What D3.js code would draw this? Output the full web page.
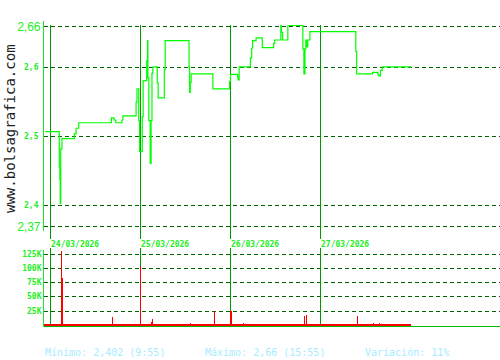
<!DOCTYPE html>
<html><head><meta charset="utf-8">
<script src="https://cdn.jsdelivr.net/npm/d3@7"></script>
<style>body{margin:0;background:#fff}svg{display:block}</style>
</head><body>
<svg id="c" width="500" height="360"></svg>
<script>
const days = ["24/03/2026","25/03/2026","26/03/2026","27/03/2026"];
const priceTicks = [2.66, 2.6, 2.5, 2.4, 2.37];
const priceTickLabels = ["2,66","2,6","2,5","2,4","2,37"];
const volumeTicks = [25000, 50000, 75000, 100000, 125000];
const volumeTickLabels = ["25K","50K","75K","100K","125K"];
const footerLabels = ["Mínimo: 2,402 (9:55)", "Máximo: 2,66 (15:55)", "Variación: 11%"];
const watermark = "www.bolsagrafica.com";

// [day index, time, price]
const priceSeries = [
  [0,"08:30",2.506],[0,"09:50",2.455],[0,"09:53",2.437],[0,"09:55",2.402],
  [0,"09:58",2.481],[0,"10:05",2.496],[0,"11:15",2.503],[0,"11:25",2.511],
  [0,"11:40",2.519],[0,"14:45",2.526],[0,"15:00",2.523],[0,"15:10",2.519],
  [0,"15:45",2.523],[0,"15:50",2.529],[0,"17:05",2.549],[0,"17:10",2.568],
  [0,"17:20",2.522],[0,"17:25",2.477],
  [1,"09:10",2.528],[1,"09:15",2.580],[1,"09:35",2.609],[1,"09:40",2.638],
  [1,"09:42",2.584],[1,"09:47",2.522],[1,"09:55",2.460],[1,"10:00",2.522],
  [1,"10:05",2.591],[1,"10:10",2.600],[1,"10:35",2.577],[1,"10:40",2.555],
  [1,"11:15",2.596],[1,"11:20",2.638],[1,"13:35",2.600],[1,"13:38",2.563],
  [1,"13:42",2.577],[1,"13:47",2.590],[1,"15:50",2.568],[1,"17:25",2.579],
  [2,"09:00",2.589],[2,"09:40",2.586],[2,"09:43",2.581],[2,"09:49",2.600],
  [2,"10:53",2.613],[2,"11:00",2.627],[2,"11:05",2.638],[2,"11:25",2.642],
  [2,"12:00",2.628],[2,"13:05",2.634],[2,"13:10",2.639],[2,"13:45",2.660],
  [2,"13:48",2.650],[2,"13:55",2.639],[2,"14:25",2.660],[2,"15:50",2.626],
  [2,"15:56",2.590],[2,"16:02",2.626],[2,"16:07",2.639],[2,"16:12",2.629],
  [2,"16:18",2.639],[2,"16:30",2.651],
  [3,"12:20",2.622],[3,"12:25",2.590],[3,"13:55",2.592],[3,"14:25",2.589],
  [3,"14:30",2.587],[3,"14:40",2.595],[3,"14:50",2.600],[3,"17:35",2.600]
];

// [day index, time, volume]
const volumeSeries = [
  [0,"09:58",130000],[0,"10:04",82000],[0,"11:46",2000],[0,"14:46",14000],
  [0,"15:10",2000],[0,"15:50",2000],[0,"17:08",2000],[0,"17:25",104000],
  [1,"09:13",2000],[1,"09:58",5000],[1,"10:05",10000],[1,"13:39",4000],
  [1,"13:45",2000],[1,"15:57",25000],[1,"17:25",25000],[1,"17:30",25000],
  [2,"09:05",25000],[2,"09:57",2000],[2,"10:08",4000],[2,"13:45",2000],
  [2,"15:55",15000],[2,"16:05",17000],[2,"16:18",2000],
  [3,"12:26",15000],[3,"13:57",4000],[3,"14:31",4000],[3,"17:26",2000]
];

const SESSION = 510, OPEN = 540;
const tOf = (d, s) => { const [h, m] = s.split(":").map(Number); return d * SESSION + h * 60 + m - OPEN; };

const svg = d3.select("#c");
const x = d3.scaleLinear().domain([0, days.length * SESSION]).range([50.5, 410.5]);
const y = d3.scaleLinear().domain([2.37, 2.66]).range([225.5, 25.5]);
const yv = d3.scaleLinear().domain([0, 125000]).range([325, 253.5]);
const AX = 43.5;

const gridC = "#006600", sepC = "#009900", axisC = "#22e622", lineC = "#00ff00", txtC = "#22ee22";

// price grid
svg.append("g").selectAll("line").data(priceTicks).join("line")
  .attr("x1", AX).attr("x2", 500).attr("y1", d => Math.round(y(d)) + 0.5).attr("y2", d => Math.round(y(d)) + 0.5)
  .attr("stroke", gridC).attr("stroke-dasharray", "4,3").attr("shape-rendering", "crispEdges");
// volume grid
svg.append("g").selectAll("line").data(volumeTicks).join("line")
  .attr("x1", AX).attr("x2", 500).attr("y1", d => Math.round(yv(d)) + 0.5).attr("y2", d => Math.round(yv(d)) + 0.5)
  .attr("stroke", gridC).attr("stroke-dasharray", "4,3").attr("shape-rendering", "crispEdges");

// day separators
const sepX = days.map((d, i) => x(i * SESSION));
svg.append("g").selectAll("line").data(sepX).join("line")
  .attr("x1", d => d).attr("x2", d => d).attr("y1", y(2.66) - 0.5).attr("y2", 239)
  .attr("stroke", sepC).attr("shape-rendering", "crispEdges");
svg.append("g").selectAll("line").data(sepX).join("line")
  .attr("x1", d => d).attr("x2", d => d).attr("y1", 248).attr("y2", 326)
  .attr("stroke", sepC).attr("shape-rendering", "crispEdges");

// axes lines
svg.append("line").attr("x1", AX).attr("x2", AX).attr("y1", 21).attr("y2", 231)
  .attr("stroke", axisC).attr("shape-rendering", "crispEdges");
svg.append("line").attr("x1", AX).attr("x2", AX).attr("y1", 250).attr("y2", 327)
  .attr("stroke", axisC).attr("shape-rendering", "crispEdges");
svg.append("line").attr("x1", AX).attr("x2", 500).attr("y1", 326.5).attr("y2", 326.5)
  .attr("stroke", "#00bb00").attr("shape-rendering", "crispEdges");

// price line
const pts = priceSeries.map(([d, s, v]) => [tOf(d, s), v]);
svg.append("path").datum(pts)
  .attr("d", d3.line().x(d => x(d[0])).y(d => y(d[1])).curve(d3.curveStepAfter))
  .attr("fill", "none").attr("stroke", lineC).attr("stroke-width", 1.2);

// volume baseline and bars
const tEnd = pts[pts.length - 1][0];
svg.append("line").attr("x1", AX).attr("x2", x(tEnd)).attr("y1", yv(0)).attr("y2", yv(0))
  .attr("stroke", "#ff0000").attr("stroke-width", 2).attr("shape-rendering", "crispEdges");
svg.append("g").selectAll("line").data(volumeSeries).join("line")
  .attr("x1", d => Math.round(x(tOf(d[0], d[1]))) + 0.5).attr("x2", d => Math.round(x(tOf(d[0], d[1]))) + 0.5)
  .attr("y1", yv(0)).attr("y2", d => yv(d[2]))
  .attr("stroke", "#ff0000").attr("shape-rendering", "crispEdges");

// price tick labels
const isEnd = i => i === 0 || i === priceTicks.length - 1;
svg.append("g").selectAll("text").data(priceTicks).join("text")
  .attr("x", (d, i) => isEnd(i) ? 40.5 : 38.5)
  .attr("y", (d, i) => isEnd(i) ? y(d) + 5.5 : y(d) + 3)
  .attr("text-anchor", "end")
  .attr("font-family", (d, i) => isEnd(i) ? "Liberation Sans, Arial, sans-serif" : "DejaVu Sans Mono, monospace")
  .attr("font-weight", (d, i) => isEnd(i) ? "normal" : "bold")
  .attr("font-size", (d, i) => isEnd(i) ? 12 : 8)
  .attr("fill", txtC)
  .text((d, i) => priceTickLabels[i]);

// volume tick labels
svg.append("g").selectAll("text").data(volumeTicks).join("text")
  .attr("x", 41.5).attr("y", d => yv(d) + 3)
  .attr("text-anchor", "end").attr("font-family", "DejaVu Sans Mono, monospace")
  .attr("font-weight", "bold").attr("font-size", 8).attr("fill", txtC)
  .text((d, i) => volumeTickLabels[i]);

// day labels
svg.append("g").selectAll("text").data(days).join("text")
  .attr("x", (d, i) => sepX[i] + 0.5).attr("y", 247)
  .attr("font-family", "DejaVu Sans Mono, monospace").attr("font-weight", "bold")
  .attr("font-size", 8).attr("fill", txtC).text(d => d);

// watermark
svg.append("text").attr("transform", "translate(15,213) rotate(-90)")
  .attr("font-family", "DejaVu Sans Mono, monospace").attr("font-size", 14)
  .attr("fill", "#222").text(watermark);

// footer
const footerX = [45, 205, 365];
svg.append("g").selectAll("text").data(footerLabels).join("text")
  .attr("x", (d, i) => footerX[i]).attr("y", 356)
  .attr("font-family", "DejaVu Sans Mono, monospace").attr("font-size", 10)
  .attr("fill", "#a6ecff").text(d => d);
</script>
</body></html>
